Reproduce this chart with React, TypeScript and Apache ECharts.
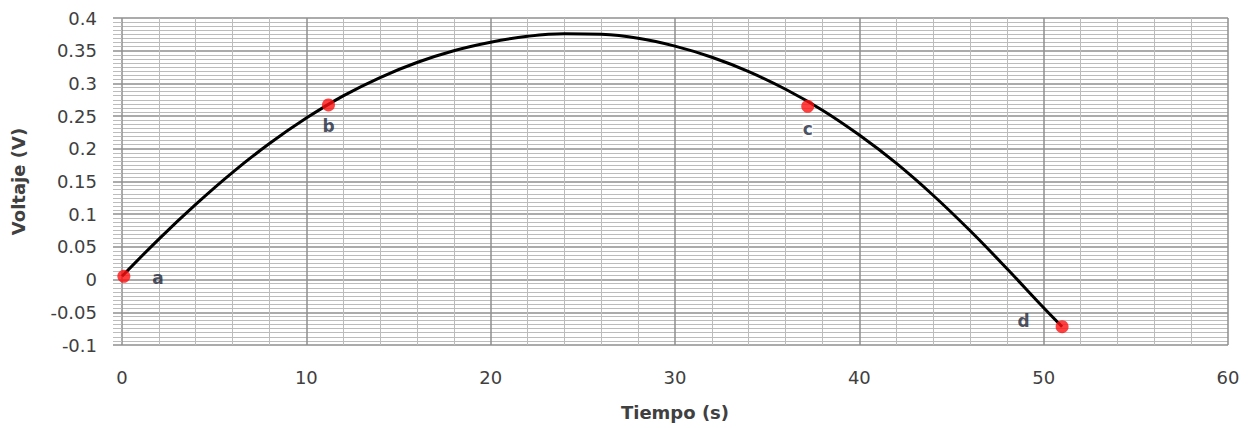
import React, { useEffect, useRef } from "react";
import * as echarts from "echarts";

// Curve (Tiempo s, Voltaje V)
const curveT = [0, 2, 4, 6, 8, 10, 12, 14, 16, 18, 20, 22, 24, 26, 28, 30, 32, 34, 36, 38, 40, 42, 44, 46, 48, 50, 51];
const curveV = [0.005, 0.062, 0.115, 0.164, 0.208, 0.247, 0.281, 0.309, 0.332, 0.35, 0.363, 0.372, 0.376, 0.375, 0.369, 0.357, 0.34, 0.318, 0.291, 0.259, 0.221, 0.178, 0.129, 0.075, 0.017, -0.043, -0.072];

// Marked points
const pointNames = ["a", "b", "c", "d"];
const pointT = [0.1, 11.2, 37.2, 51];
const pointV = [0.005, 0.267, 0.265, -0.072];

const xTitle = "Tiempo (s)";
const yTitle = "Voltaje (V)";

export default function App() {
  const ref = useRef<HTMLDivElement>(null);
  useEffect(() => {
    document.body.style.margin = "0";
    if (!ref.current) return;
    const chart = echarts.init(ref.current, null, { renderer: "svg" });
    const labelPos = ["right", "bottom", "bottom", "left"];
    const labelDist = [22, 6, 8, 26];
    const labelOff = [[0, 2], [0, 0], [0, 0], [0, -6]];
    chart.setOption({
      animation: false,
      backgroundColor: "#ffffff",
      grid: { left: 122, right: 29, top: 18, bottom: 83, containLabel: false },
      xAxis: {
        type: "value",
        min: 0,
        max: 60,
        interval: 10,
        name: xTitle,
        nameLocation: "middle",
        nameGap: 58,
        nameTextStyle: { fontFamily: "DejaVu Sans", fontWeight: "bold", fontSize: 18, color: "#404040" },
        axisLine: { show: false },
        axisTick: { show: false },
        minorTick: { show: false, splitNumber: 5 },
        axisLabel: { margin: 23, fontFamily: "DejaVu Sans", fontSize: 18, color: "#404040" },
        splitLine: { show: true, lineStyle: { color: "#8f8f8f", width: 1.5 } },
        minorSplitLine: { show: true, lineStyle: { color: "#bcbcbc", width: 1 } },
      },
      yAxis: {
        type: "value",
        min: -0.1,
        max: 0.4,
        interval: 0.05,
        name: yTitle,
        nameLocation: "middle",
        nameGap: 95,
        nameTextStyle: { fontFamily: "DejaVu Sans", fontWeight: "bold", fontSize: 18, color: "#404040" },
        axisLine: { show: false },
        axisTick: { show: true, length: 9, lineStyle: { color: "#8f8f8f", width: 1.5 } },
        minorTick: { show: true, splitNumber: 8, length: 9, lineStyle: { color: "#bcbcbc", width: 1 } },
        axisLabel: {
          margin: 25,
          fontFamily: "DejaVu Sans",
          fontSize: 18,
          color: "#404040",
          formatter: (v: number) => String(parseFloat(v.toFixed(3))),
        },
        splitLine: { show: true, lineStyle: { color: "#8f8f8f", width: 1.5 } },
        minorSplitLine: { show: true, lineStyle: { color: "#bcbcbc", width: 1 } },
      },
      series: [
        {
          type: "line",
          data: curveT.map((t, i) => [t, curveV[i]]),
          smooth: 0.4,
          showSymbol: false,
          lineStyle: { color: "#000000", width: 3 },
          z: 2,
        },
        {
          type: "scatter",
          data: pointT.map((t, i) => ({
            value: [t, pointV[i]],
            label: {
              show: true,
              formatter: pointNames[i],
              position: labelPos[i],
              distance: labelDist[i],
              offset: labelOff[i],
              backgroundColor: i === 2 ? "#ffffff" : "transparent",
            },
          })),
          symbol: "circle",
          symbolSize: 13,
          itemStyle: { color: "#ff1010" },
          label: { fontFamily: "DejaVu Sans", fontWeight: "bold", fontSize: 17, color: "#1c2538" },
          z: 3,
        },
      ],
    });
    return () => chart.dispose();
  }, []);
  return <div ref={ref} style={{ width: 1257, height: 428 }} />;
}
